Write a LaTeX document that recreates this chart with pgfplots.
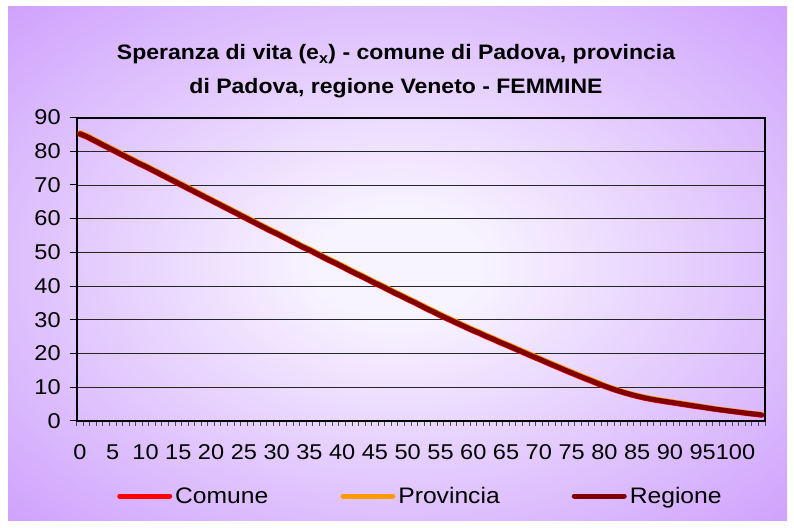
\documentclass[border=0pt]{standalone}
\usepackage{pgfplots}
\pgfplotsset{compat=1.18}
\usepackage{pgfplotstable}
\usepackage{fontspec}
\setmainfont[FakeStretch=1.1]{Liberation Sans}
\definecolor{bgpurple}{RGB}{202,152,252}
\definecolor{bglight}{RGB}{248,244,255}
\definecolor{comune}{RGB}{255,0,0}
\definecolor{provincia}{RGB}{255,153,0}
\definecolor{regione}{RGB}{128,0,0}
\pgfdeclareradialshading{bgshade}{\pgfpoint{0bp}{0bp}}{color(0bp)=(bglight); color(5bp)=(bglight); color(39bp)=(bgpurple); color(50bp)=(bgpurple)}

\pgfplotstableread{
age com prov reg
0 85.0 85.5 85.2
1 84.2 84.7 84.4
2 83.2 83.7 83.4
3 82.2 82.7 82.4
4 81.2 81.7 81.4
5 80.2 80.7 80.4
6 79.2 79.7 79.4
7 78.2 78.7 78.4
8 77.2 77.7 77.4
9 76.2 76.7 76.4
10 75.3 75.8 75.5
11 74.3 74.8 74.5
12 73.3 73.8 73.5
13 72.3 72.8 72.5
14 71.3 71.8 71.5
15 70.3 70.8 70.5
16 69.3 69.8 69.5
17 68.3 68.8 68.5
18 67.3 67.8 67.5
19 66.3 66.8 66.5
20 65.3 65.8 65.5
21 64.3 64.8 64.5
22 63.3 63.8 63.5
23 62.3 62.8 62.5
24 61.3 61.8 61.5
25 60.3 60.8 60.5
26 59.3 59.8 59.5
27 58.3 58.8 58.5
28 57.3 57.8 57.5
29 56.3 56.8 56.5
30 55.4 55.9 55.6
31 54.4 54.9 54.6
32 53.4 53.9 53.6
33 52.4 52.9 52.6
34 51.4 51.9 51.6
35 50.5 51.0 50.7
36 49.5 50.0 49.7
37 48.5 49.0 48.7
38 47.5 48.0 47.7
39 46.6 47.1 46.8
40 45.6 46.1 45.8
41 44.6 45.1 44.8
42 43.6 44.1 43.8
43 42.7 43.2 42.9
44 41.7 42.2 41.9
45 40.7 41.2 40.9
46 39.8 40.3 40.0
47 38.8 39.3 39.0
48 37.8 38.3 38.0
49 36.9 37.4 37.1
50 35.9 36.4 36.1
51 35.0 35.5 35.2
52 34.0 34.5 34.2
53 33.0 33.5 33.2
54 32.1 32.6 32.3
55 31.1 31.6 31.3
56 30.2 30.7 30.4
57 29.3 29.8 29.5
58 28.4 28.9 28.6
59 27.5 28.0 27.7
60 26.6 27.1 26.8
61 25.8 26.3 26.0
62 24.9 25.4 25.1
63 24.1 24.6 24.3
64 23.2 23.7 23.4
65 22.4 22.9 22.6
66 21.55 22.05 21.75
67 20.7 21.2 20.9
68 19.85 20.35 20.05
69 19.0 19.5 19.2
70 18.2 18.7 18.4
71 17.35 17.85 17.55
72 16.5 17.0 16.7
73 15.7 16.2 15.9
74 14.85 15.35 15.05
75 14.05 14.55 14.25
76 13.25 13.75 13.45
77 12.45 12.95 12.65
78 11.7 12.2 11.9
79 10.9 11.4 11.1
80 10.2 10.55 10.35
81 9.5 9.85 9.65
82 8.85 9.2 9.0
83 8.25 8.6 8.4
84 7.7 8.05 7.85
85 7.2 7.55 7.35
86 6.75 7.1 6.9
87 6.35 6.7 6.5
88 6.0 6.35 6.15
89 5.7 6.05 5.85
90 5.4 5.75 5.55
91 5.1 5.45 5.25
92 4.8 5.15 4.95
93 4.5 4.85 4.65
94 4.2 4.55 4.35
95 3.95 4.2 4.05
96 3.65 3.9 3.75
97 3.35 3.6 3.45
98 3.1 3.35 3.2
99 2.85 3.1 2.95
100 2.6 2.85 2.7
101 2.35 2.6 2.45
102 2.1 2.35 2.2
103 1.9 2.15 2.0
104 1.65 1.9 1.75
}\datatable

\begin{document}
\begin{tikzpicture}
\useasboundingbox (0bp,0bp) rectangle (794bp,528bp);
\fill[white] (0bp,0bp) rectangle (794bp,528bp);
\shade[shading=bgshade] (8bp,7bp) rectangle (787bp,521bp);
\begin{axis}[
  at={(76.7bp,107.2bp)}, anchor=south west,
  scale only axis, width=688.3bp, height=303.3bp,
  xmin=-0.5, xmax=104.5, ymin=0, ymax=90,
  axis line style={line width=2bp, black},
  xtick={0,5,...,100},
  minor xtick={-0.5,0.5,...,104.5},
  ytick={0,10,...,90},
  ymajorgrids,
  major grid style={black!85, line width=0.8bp},
  tick align=outside, xtick pos=bottom, ytick pos=left,
  major tick length=7bp, minor tick length=5bp,
  major x tick style={draw=none},
  minor x tick style={black!70, line width=1bp},
  major y tick style={black, line width=1bp},
  /pgf/number format/assume math mode=true,
  ticklabel style={font=\fontsize{21.5}{22}\selectfont},
  xticklabel style={yshift=-13bp},
  yticklabel style={xshift=-5.5bp},
  legend columns=3,
  legend style={at={(axis description cs:0.0585,-0.248)}, anchor=west,
    draw=none, fill=none, inner sep=0pt, nodes={inner sep=0pt},
    font=\fontsize{22.5}{24}\selectfont,
    /tikz/every odd column/.append style={column sep=3bp},
    /tikz/every even column/.append style={column sep=72bp}},
  legend image code/.code={\draw[#1, line cap=round] (0bp,0bp) -- (50bp,0bp);},
  every axis plot/.append style={line width=5bp, line join=round, line cap=round},
]
\addplot[comune] table[x=age, y=com] {\datatable};
\addlegendentry{Comune}
\addplot[provincia] table[x=age, y=prov] {\datatable};
\addlegendentry{Provincia}
\addplot[regione] table[x=age, y=reg] {\datatable};
\addlegendentry{Regione}
\end{axis}
\node[anchor=base, font=\bfseries\fontsize{21}{24}\selectfont] at (396bp,468bp) {Speranza di vita (e\textsubscript{x}) - comune di Padova, provincia};
\node[anchor=base, font=\bfseries\fontsize{21}{24}\selectfont] at (396bp,434bp) {di Padova, regione Veneto - FEMMINE};
\end{tikzpicture}
\end{document}
